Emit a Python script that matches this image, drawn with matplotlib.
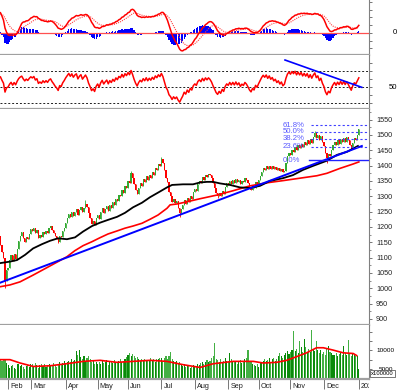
import numpy as np
import matplotlib
matplotlib.use("Agg")
import matplotlib.pyplot as plt
from matplotlib.transforms import Bbox, TransformedBbox

plt.rcParams['font.family'] = ['Liberation Sans', 'DejaVu Sans']

# ---- data (bar index 0 = 25 Jan 2021, last = 4 Jan 2022) ----
first_open = 1172
closes = [1140, 1118, 1098, 1023, 1060,
          1066, 1092, 1110, 1088, 1112, 1095,
          1128, 1155, 1172, 1182, 1165, 1152, 1168, 1160, 1178,
          1192, 1186, 1198, 1180, 1190, 1165, 1175, 1168, 1185, 1176,
          1188, 1180, 1195, 1202, 1190, 1181, 1170, 1162, 1150, 1172,
          1168, 1186, 1198, 1214, 1228, 1242, 1232, 1248, 1236, 1250,
          1258, 1240, 1256, 1266, 1250, 1262, 1275, 1265, 1245, 1230,
          1210, 1218, 1205, 1228, 1240, 1226, 1248, 1262, 1246, 1258,
          1268, 1252, 1270, 1262, 1280, 1272, 1292, 1285, 1305, 1300,
          1322, 1312, 1335, 1328, 1350, 1342, 1375, 1360, 1340, 1322,
          1308, 1328, 1342, 1335, 1355, 1346, 1365, 1352, 1368, 1360,
          1378, 1370, 1392, 1385, 1405, 1398, 1420, 1408, 1385, 1360,
          1345, 1315, 1302, 1280, 1292, 1278, 1285, 1262, 1245, 1258,
          1270, 1288, 1276, 1295, 1282, 1302, 1292, 1315, 1325, 1318,
          1340, 1350, 1342, 1362, 1352, 1370, 1362, 1374, 1368, 1358,
          1342, 1328, 1310, 1300, 1312, 1302, 1318, 1308, 1330, 1342,
          1336, 1350, 1340, 1352, 1342, 1356, 1345, 1354, 1340, 1350,
          1345, 1358, 1352, 1342, 1330, 1322, 1334, 1328, 1345, 1338,
          1352, 1365, 1380, 1392, 1386, 1398, 1388, 1400, 1390, 1398,
          1388, 1395, 1385, 1392, 1382, 1390, 1378, 1384, 1408, 1430,
          1442, 1436, 1452, 1446, 1460, 1450, 1466, 1458, 1472, 1462,
          1476, 1468, 1482, 1470, 1486, 1475, 1492, 1505, 1490, 1500,
          1484, 1496, 1478, 1465, 1440, 1424, 1438, 1430, 1452, 1466,
          1478, 1466, 1482, 1472, 1488, 1476, 1490, 1478, 1492, 1482,
          1468, 1455, 1475, 1490, 1485, 1500, 1518]
low_wicks = {3: 1000, 38: 1147, 118: 1233, 143: 1293, 215: 1408}
high_wicks = {56: 1287, 86: 1382, 106: 1427, 207: 1512, 236: 1521}

volumes = [7600, 7300, 7800, 7700, 6600, 6200, 5400,
           5800, 6100, 5200, 4900, 6300, 6500, 5900, 6200, 5600, 5100, 5800, 6000, 5500, 6400,
           6300, 5800, 6600, 6100, 5400, 6200, 6500, 5900, 6300, 5600, 6000, 6400, 5800, 6200,
           6700, 6100, 5700, 6400, 6800, 6300, 6600, 7100, 6500,
           6900, 7300, 6800, 7600, 7100, 7400, 9800, 8800, 10100,
           8200, 7600, 8500, 7300, 7900, 8600, 7700, 6800, 7200, 6500, 6900, 6300, 7000,
           6400, 7100, 6600, 6900, 7400, 6200, 6800, 7300, 6700, 7500, 7000, 6600, 7200, 7600,
           6900, 7300, 7700, 8300,
           8800, 9200, 8600, 9100, 8400, 7900, 8200,
           7600, 7200, 7800, 7400, 7700, 7100, 7500, 7300, 7900, 7400, 7700, 7000, 7600, 7800, 8100,
           7900, 7300, 8100, 8600, 7800, 8400, 9600, 7700, 7200,
           6800, 7100, 6400, 6900, 6200, 5900, 6500, 5600, 6100, 5800, 5300, 5700, 6000, 5500,
           5900, 6400, 6200,
           6600, 7000, 6300, 6900, 7400, 6800, 7200, 8100, 8600, 12000, 7800, 7400,
           7000, 7600, 6800, 7300, 7900, 7200, 6900, 9300, 7600, 7100,
           6800, 7200, 6500, 7000, 7400, 6700, 7100, 7600, 8000, 10000, 7300, 6900, 6400, 6100,
           5900, 6300, 5700, 6600, 6900, 7300, 7800, 7200,
           7400, 7900, 7000, 7600, 8100, 7300, 7800, 8400, 9300, 8600, 8000,
           8800, 9200, 9900, 9000, 9500, 10200, 15300,
           9800, 10400, 9200, 12600, 10800, 9600, 13100, 11000, 9700, 10300, 9500,
           15600,
           10500, 9800, 12500, 10200, 9400, 10000, 9100, 9700, 8900, 10400, 11100, 9600, 9200, 8800,
           8700, 9300, 8500, 9000, 9600, 8800, 11200, 9400, 8700, 12800, 9100, 8600, 9400, 9000, 8400,
           8500, 4900]

# moving averages (bar index, value)
ma_black_x = [-0.3, 6.3, 10.9, 16.2, 21.5, 27.4, 32.7, 37.9, 43.8, 49.1, 54.4, 60.3, 65.6,
              70.8, 76.8, 82.0, 87.3, 93.2, 98.5, 103.8, 109.7, 113.0, 120.2, 126.8, 131.4,
              136.0, 140.0, 144.6, 151.2, 157.7, 164.3, 170.9, 177.5, 186.0, 192.6, 199.2,
              205.8, 215.0, 221.6, 228.2, 235.4]
ma_black_y = [1082, 1087, 1092, 1109, 1130, 1144, 1155, 1163, 1160, 1166, 1185, 1203, 1214,
              1223, 1233, 1246, 1264, 1279, 1297, 1312, 1329, 1337, 1339, 1339, 1345,
              1347, 1347, 1342, 1337, 1329, 1327, 1334, 1350, 1359, 1369, 1386,
              1399, 1416, 1435, 1445, 1464]
ma_red_x = [-0.3, 6.3, 12.9, 21.5, 32.7, 37.9, 43.8, 49.1, 54.4, 60.3, 65.6, 70.8, 76.8,
            82.0, 87.3, 93.2, 98.5, 103.8, 109.7, 111.7, 116.3, 122.8, 131.4, 142.6, 153.1,
            164.3, 175.5, 186.0, 197.2, 208.4, 215.0, 223.6, 232.1, 236.0]
ma_red_y = [1005, 1011, 1021, 1043, 1073, 1087, 1103, 1123, 1139, 1152, 1165, 1177, 1187,
            1196, 1203, 1212, 1225, 1239, 1261, 1272, 1275, 1282, 1292, 1304, 1318,
            1334, 1344, 1351, 1359, 1367, 1375, 1391, 1405, 1412]
vol_ma_x = [-0.3, 6.3, 12.9, 21.7, 32.7, 43.6, 54.6, 65.6, 76.6, 87.5, 98.5, 109.5, 120.4,
            131.4, 140.2, 153.3, 166.5, 173.1, 181.9, 188.5, 192.8, 201.6, 208.2, 212.6,
            219.2, 225.7, 232.3, 234.6]
vol_ma_y = [7540, 7540, 6640, 5710, 5900, 6450, 7080, 7360, 6820, 7080, 7360, 7080, 6180,
            5450, 6450, 7080, 7080, 6640, 6820, 7360, 8000, 9370, 10730, 10730,
            10090, 9370, 9190, 8640]

trend_x = [-0.3, 238.0]
trend_y = [1018, 1464]
rsi_trend_x = [187.4, 237.9]
rsi_trend_y = [83.7, 50.0]

fib_low, fib_high = 1417, 1603
fib_ratios = [0.0, 0.236, 0.382, 0.5, 0.618]
fib_labels = ["0.0%", "23.6%", "38.2%", "50.0%", "61.8%"]

# indicator state carried in from before the visible window
macd_fast_seed, macd_slow_seed, macd_signal_seed = 1150, 1121, 24
rsi_seed_gain, rsi_seed_loss = 16.0, 7.0

month_starts = [5, 20, 43, 64, 84, 106, 128, 150, 170, 191, 213, 236]
month_labels = ["Feb", "Mar", "Apr", "May", "Jun", "Jul", "Aug", "Sep", "Oct", "Nov", "Dec", "2022"]
price_ticks = list(range(900, 1551, 50))


def ema(vals, span, seed):
    k = 2.0 / (span + 1)
    out = np.empty(len(vals))
    prev = seed
    for i, v in enumerate(vals):
        prev = prev + k * (v - prev)
        out[i] = prev
    return out


c = np.array(closes, dtype=float)
o = np.concatenate([[first_open], c[:-1]])
idx = np.arange(len(c))
hi = np.maximum(o, c)
lo = np.minimum(o, c)
for k, v in high_wicks.items():
    hi[k] = v
for k, v in low_wicks.items():
    lo[k] = v

macd = ema(c, 12, macd_fast_seed) - ema(c, 26, macd_slow_seed)
signal = ema(macd, 9, macd_signal_seed)
hist = macd - signal

# Wilder RSI(14)
d = c - o
ag, al = rsi_seed_gain, rsi_seed_loss
rsi = np.empty(len(c))
for i, dv in enumerate(d):
    ag = (ag * 13 + max(dv, 0)) / 14
    al = (al * 13 + max(-dv, 0)) / 14
    rsi[i] = 100 - 100 / (1 + ag / al)

# ---- layout ----
W, H = 400, 392
fig = plt.figure(figsize=(W / 100, H / 100), dpi=100)
right = 369 / W


def panel(top, bottom):
    return fig.add_axes([0, (H - bottom) / H, right, (bottom - top) / H])


ax_macd = panel(0, 55)
ax_rsi = panel(55, 109)
ax_p = panel(109, 325)
ax_v = panel(325, 379)
xlim = (-0.3, 242.7)
lab_fs = 5.2

for ax in (ax_macd, ax_rsi, ax_p, ax_v):
    ax.set_xlim(*xlim)
    for s in ("top", "left"):
        ax.spines[s].set_visible(False)
    ax.spines["bottom"].set_color("#a0a0a0")
    ax.spines["bottom"].set_linewidth(1.6)
    ax.spines["right"].set_color("#808080")
    ax.spines["right"].set_linewidth(0.8)
    ax.yaxis.tick_right()
    ax.tick_params(axis="y", direction="out", length=2.2, width=0.6, colors="#606060",
                   labelsize=lab_fs, labelcolor="#202020", pad=2.8)
    ax.tick_params(axis="y", which="minor", direction="out", length=1.2, width=0.5, colors="#606060")
    ax.set_xticks([])

# MACD
ax_macd.set_ylim(-28.6, 42.5)
ax_macd.bar(idx, hist, width=0.8, color="#0000ff", linewidth=0)
ax_macd.axhline(0, color="#ff5050", lw=0.9)
ax_macd.plot(idx, signal, color="#ff4040", lw=0.8, ls=(0, (1, 1)))
ax_macd.plot(idx, macd, color="#ff0000", lw=1.1)
ax_macd.set_yticks([-20, -10, 0, 10, 20, 30, 40])
ax_macd.set_yticklabels([])
ax_macd.text(395 / W * (xlim[1] - xlim[0]) / right + xlim[0], 0, "0", ha="center", va="center",
             fontsize=5.6, clip_on=False)

# RSI
ax_rsi.set_ylim(23.2, 89.9)
for lvl in (30, 50, 70):
    ax_rsi.axhline(lvl, color="#202020", lw=0.7, ls=(0, (2, 2)))
ax_rsi.plot(idx, rsi, color="#ff0000", lw=1.1)
ax_rsi.plot(rsi_trend_x, rsi_trend_y, color="#0000ff", lw=1.2)
ax_rsi.set_yticks([30, 40, 50, 60, 70, 80])
ax_rsi.set_yticklabels([])
ax_rsi.text(393 / W * (xlim[1] - xlim[0]) / right + xlim[0], 50, "50", ha="center", va="center",
            fontsize=5.6, clip_on=False)

# price
ax_p.set_ylim(880.3, 1584.6)
up = c >= o
col = np.where(up, "#33aa33", "#ff0000")
ax_p.vlines(idx, lo, hi, colors=col, lw=0.6)
ax_p.bar(idx, np.maximum(np.abs(c - o), 1.5), bottom=np.minimum(o, c), width=0.8,
         color=col, linewidth=0)
ax_p.plot(ma_red_x, ma_red_y, color="#ff0000", lw=1.2)
ax_p.plot(ma_black_x, ma_black_y, color="#000000", lw=1.3)
ax_p.plot(trend_x, trend_y, color="#0000ff", lw=1.4)
for r, lab in zip(fib_ratios, fib_labels):
    lvl = fib_low + r * (fib_high - fib_low)
    if r == 0:
        ax_p.plot([203.5, xlim[1]], [lvl, lvl], color="#2020ff", lw=1.0)
    else:
        ax_p.plot([204.5, xlim[1]], [lvl, lvl], color="#4040ff", lw=0.8, ls=(0, (2, 2)))
    ax_p.text(186, lvl, lab, ha="left", va="center", fontsize=5.6, color="#5a5aff")
ax_p.set_yticks(price_ticks)
ax_p.set_yticks(list(range(900, 1576, 25)), minor=True)

# volume
ax_v.set_ylim(2350, 16830)
vcol = np.where(up, "#0a8a0a", "#44b044")
ax_v.bar(idx, volumes, width=0.7, color=vcol, linewidth=0)
ax_v.plot(vol_ma_x, vol_ma_y, color="#ff0000", lw=1.2)
ax_v.set_yticks([5000, 7500, 10000, 12500, 15000])
ax_v.set_yticklabels([])
vx = 385.6 / W * (xlim[1] - xlim[0]) / right + xlim[0]
ax_v.text(vx, 10000, "10000", ha="center", va="center", fontsize=4.6, clip_on=False)
ax_v.text(vx, 5000, "5000", ha="center", va="center", fontsize=4.6, clip_on=False)
fig.text(371 / W, (H - 373.5) / H, "x100000", ha="left", va="center", fontsize=4.2,
         bbox=dict(boxstyle="square,pad=0.15", fc="white", ec="#404040", lw=0.5))

# month axis
ax_v.set_xticks(month_starts)
ax_v.set_xticklabels([])
ax_v.tick_params(axis="x", direction="out", length=7.5, width=0.6, colors="#606060")
clip = TransformedBbox(Bbox([[0, 0], [right, 1]]), fig.transFigure)
for m, lab in zip(month_starts, month_labels):
    t = ax_v.text(m + 1.4, -7.7 / 54, lab, transform=ax_v.get_xaxis_transform(),
                  ha="left", va="center", fontsize=5.2, color="#202020")
    t.set_clip_box(clip)
    t.set_clip_on(True)

fig.savefig("out.png", dpi=100, facecolor="white")
